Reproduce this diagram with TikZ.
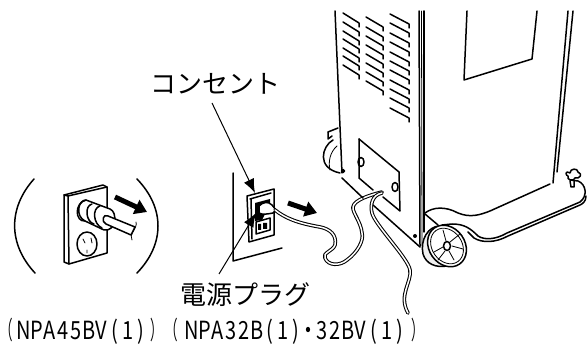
\documentclass[tikz,border=0pt]{standalone}
\usepackage{fontspec}
\usepackage{amsmath}
\newfontfamily\cjk{Noto Sans CJK JP}
\newfontfamily\narrowcjk[FakeStretch=0.8]{Noto Sans CJK JP}
\newfontfamily\parencjk[FakeStretch=0.5]{Noto Sans CJK JP}
\usetikzlibrary{arrows.meta,positioning}
\newcommand{\hw}[1]{\makebox[13pt]{#1}}
\newcommand{\fp}[1]{\makebox[12.5pt]{\parencjk #1}}
\tikzset{
  ln/.style={black,line width=1.5pt,line join=round,line cap=round},
  thin ln/.style={black,line width=.8pt,line join=round,line cap=round},
  lead/.style={black,line width=1pt,-{Latex[length=14pt,width=11pt]}},
  pull/.style={black,line width=5pt,-{Triangle[length=12pt,width=15pt]}},
  jp/.style={inner sep=0pt,font=\cjk\fontsize{26}{28}\selectfont},
  model/.style={inner sep=0pt,anchor=west,font=\narrowcjk\fontsize{25}{28}\selectfont},
  cord out/.style={black,line width=3.6pt,line cap=round,line join=round},
  cord in/.style={white,line width=1.5pt,line cap=round,line join=round},
}
\begin{document}
\begin{tikzpicture}[x=1pt,y=-1pt]
\useasboundingbox (0,0) rectangle (588,344);
% brackets round the small outlet
\draw [ln] (34,179) .. controls (8,208) and (8,244) .. (35,273);
\draw [ln] (137,179) .. controls (165,208) and (165,244) .. (137,273);
% small outlet
\draw [ln] (68,196) -- (107,187) -- (107,253) -- (69,264) -- cycle;
\draw [ln] (68,196) -- (64,195) -- (64,262) -- (69,264);
\draw [ln] (64,195) -- (103,185) -- (107,187);
\draw [ln] (87,244) ellipse (10 and 12);
\draw [thin ln] (83,239) -- (85,243) (91,238) -- (92,243) (87,250) -- (87,253);
\draw [ln,fill=white] (86,200) .. controls (74,203) and (75,222) .. (85,221) -- (104,230) .. controls (116,232) and (118,212) .. (110,209) -- cycle;
\draw [ln] (86,200) .. controls (78,200) and (75,216) .. (85,221);
\draw [ln] (92,204) .. controls (84,206) and (86,222) .. (94,224);
\draw [ln] (100,206) .. controls (92,208) and (93,224) .. (102,228);
\draw [ln,fill=white] (108,216) .. controls (103,213) and (101,222) .. (106,224) -- (131,235) -- (135,227) -- cycle;
\draw [thin ln] (136,222) .. controls (138,228) and (128,235) .. (132,240);
\coordinate (smalltail) at (115,197);
\coordinate (smalltip) at (147,212);
\draw [pull] (smalltail) -- (smalltip);
% wall and outlet
\draw [ln] (233,173) -- (233,261) -- (282,248);
\draw [ln] (247,196) -- (274,189) -- (274,235) -- (249,242) -- cycle;
\draw [ln] (250,199) -- (271,193);
\draw [ln] (251,199) -- (252,239);
\draw [ln] (256,222) -- (270,218) -- (270,230) -- (256,234) -- cycle;
\fill [black] (258,224) rectangle (261,230) (263,223) rectangle (267,229);
\fill [black] (255,203) -- (270,199) -- (270,204) -- (262,220) -- (255,221) -- cycle;
\draw [ln,fill=white] (259,206) .. controls (263,202) and (268,201) .. (272,205) -- (276,210) -- (273,213) .. controls (268,214) and (262,215) .. (259,213) -- cycle;
% cord
\draw [cord out] (275,210) .. controls (285,218) and (297,223) .. (320,227) .. controls (330,229) and (337,235) .. (335,245) .. controls (333,251) and (322,253) .. (325,258) .. controls (328,266) and (340,266) .. (347,260) .. controls (358,252) and (364,240) .. (362,233) .. controls (361,222) and (352,212) .. (353,207) .. controls (354,200) and (370,195) .. (382,192);
\draw [cord in] (275,210) .. controls (285,218) and (297,223) .. (320,227) .. controls (330,229) and (337,235) .. (335,245) .. controls (333,251) and (322,253) .. (325,258) .. controls (328,266) and (340,266) .. (347,260) .. controls (358,252) and (364,240) .. (362,233) .. controls (361,222) and (352,212) .. (353,207) .. controls (354,200) and (370,195) .. (382,192);
% cabinet
\draw [ln] (335,11) -- (342,173);
\draw [ln] (419,11) -- (420,246);
\draw [thin ln] (421.5,11) -- (422,246);
\draw [ln] (424,11) -- (424,232);
\draw [ln] (467,11) -- (464,80) -- (532,59) -- (537,11);
\draw [ln] (568,11) -- (553,183) (573,11) -- (557,172);
% louvres
\foreach \y in {13,22,31,39,48,56,65}
  \draw [ln] (343,\y) -- (359,\y+10) -- (359,\y+14);
\foreach \y in {17,27,36,45,54,63,72,81}
  \draw [ln] (366,\y) -- (383,\y+10) -- (383,\y+14);
\foreach \y in {14,23,33,42,52,61,70,80,89,98,108}
  \draw [ln] (390,\y) -- (409,\y+10) -- (409,\y+14);
% back castor
\draw [ln] (328,132) -- (338,128);
\draw [ln] (328,132) -- (328,139) -- (332,136);
\draw [ln] (333,140) .. controls (322,146) and (316,168) .. (340,173);
\draw [thin ln] (337,146) .. controls (330,152) and (328,162) .. (330,170);
\draw [ln] (343,171) circle (1.5);
\draw [ln] (342,178) -- (363,198) (373,205) -- (420,247);
% panel
\draw [ln] (359,139) -- (359,178) -- (373,190);
\draw [ln] (359,139) -- (399,172) -- (400,211) -- (383,197);
\draw [ln] (361,162) ellipse (3 and 4.5);
\draw [ln] (395,187) ellipse (3 and 4.5);
\fill [black] (415,236) circle (2);
% second run of cord
\draw [cord out] (382,193) .. controls (372,195) and (370,205) .. (372,213) .. controls (375,225) and (408,258) .. (410,270) .. controls (412,282) and (398,295) .. (408,313);
\draw [cord in] (382,193) .. controls (372,195) and (370,205) .. (372,213) .. controls (375,225) and (408,258) .. (410,270) .. controls (412,282) and (398,295) .. (408,313);
% foot
\draw [ln] (425,213) .. controls (433,207) and (445,206) .. (458,213) .. controls (470,218) and (480,215) .. (490,211) -- (550,184);
\draw [ln] (570,180) -- (578,181) .. controls (586,184) and (588,196) .. (580,202) -- (507,233) .. controls (495,240) and (484,240) .. (478,236) .. controls (470,228) and (464,224) .. (452,224) -- (442,225);
\draw [ln] (586,196) .. controls (586,202) and (582,204) .. (580,205) -- (508,236) .. controls (495,243) and (482,243) .. (474,238) -- (468,232);
\draw [ln] (425,214) -- (438,225);
% front wheel
\draw [ln,fill=black!6] (440,226) .. controls (428,226) and (420,240) .. (423,254) .. controls (426,264) and (436,268) .. (447,266) -- (455,240) -- cycle;
\draw [ln,fill=white,rotate around={35:(447,246)}] (447,246) ellipse (18 and 22);
\draw [thin ln,rotate around={35:(447,246)}] (447,246) ellipse (15 and 19);
\draw [thin ln] (434,252) -- (443,247) (450,242) -- (460,234) (446,241) -- (443,230) (449,251) -- (454,260) (445,251) -- (438,260) (452,246) -- (463,249);
\draw [ln,fill=white] (447,246) ellipse (3.5 and 4.5);
% knob
\draw [ln] (570,173) .. controls (564,170) and (566,176) .. (568,176) .. controls (566,180) and (574,182) .. (575,178) .. controls (580,179) and (583,174) .. (578,172) .. controls (578,168) and (570,168) .. (570,173) -- cycle;
\draw [ln] (570,181) -- (571,187) -- (574,187) -- (574,181);
% labels
\node [jp] (outletlabel) at (215,84) {コンセント};
\node [jp] (pluglabel) at (245,295) {電源プラグ};
\node [model] (modeltext) at (0,331) {\fp{（}\hspace{4.5pt}\hw{N}\hw{P}\hw{A}\hw{4}\hw{5}\hw{B}\hw{V}\hw{(}\hw{1}\hw{)}\hspace{3pt}\fp{）}\hspace{2.5pt}\fp{（}\hspace{7.5pt}\hw{N}\hw{P}\hw{A}\hw{3}\hw{2}\hw{B}\hw{(}\hw{1}\hw{)}\hw{・}\hw{3}\hw{2}\hw{B}\hw{V}\hw{(}\hw{1}\hw{)}\hspace{5pt}\fp{）}};
\coordinate (outletstart) at (212,103);
\coordinate (outlettip) at (255,193);
\coordinate (plugstart) at (219,274);
\coordinate (plugtip) at (256,213);
\draw [lead] (outletstart) -- (outlettip);
\draw [lead] (plugstart) -- (plugtip);
\coordinate (bigtail) at (288,203);
\coordinate (bigtip) at (317,213);
\draw [pull] (bigtail) -- (bigtip);
\end{tikzpicture}
\end{document}
